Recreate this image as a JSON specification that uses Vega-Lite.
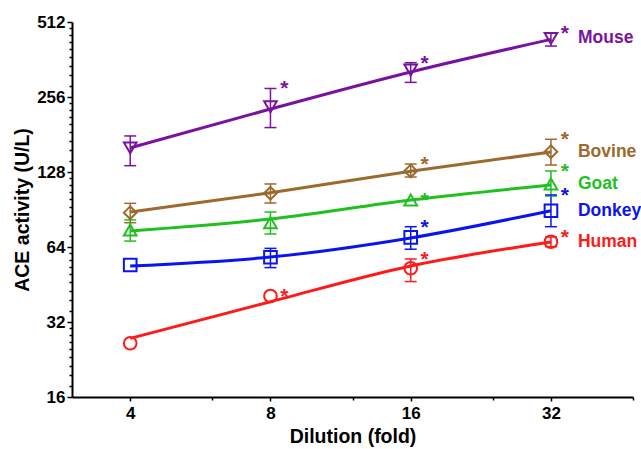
{
  "$schema": "https://vega.github.io/schema/vega-lite/v6.json",
  "width": 561,
  "height": 375,
  "autosize": "none",
  "padding": {"left": 72, "top": 22, "right": 8, "bottom": 52},
  "background": "white",
  "config": {
    "view": {"stroke": null},
    "font": "Liberation Sans",
    "axis": {
      "domainColor": "black",
      "domainWidth": 2,
      "tickColor": "black",
      "tickWidth": 1.5,
      "labelColor": "black",
      "labelFont": "Liberation Sans",
      "labelFontWeight": "bold",
      "labelFontSize": 17,
      "titleFont": "Liberation Sans",
      "titleFontWeight": "bold",
      "titleFontSize": 19.5,
      "titleColor": "black",
      "grid": false,
      "labelOverlap": false
    }
  },
  "data": {
    "values": [
      {"species": "Mouse", "dilution": 4, "mean": 160, "lo": 135.7, "hi": 178.6, "fit": 160, "star": false},
      {"species": "Mouse", "dilution": 8, "mean": 234, "lo": 193, "hi": 277, "fit": 229, "star": true},
      {"species": "Mouse", "dilution": 16, "mean": 328.5, "lo": 293, "hi": 351.5, "fit": 322.6, "star": true},
      {"species": "Mouse", "dilution": 32, "mean": 440, "lo": 410, "hi": 462, "fit": 436, "star": true},
      {"species": "Bovine", "dilution": 4, "mean": 87.9, "lo": 80.1, "hi": 95.8, "fit": 88.5, "star": false},
      {"species": "Bovine", "dilution": 8, "mean": 105.1, "lo": 96.1, "hi": 114.6, "fit": 105.7, "star": false},
      {"species": "Bovine", "dilution": 16, "mean": 129.2, "lo": 122.2, "hi": 137.8, "fit": 129, "star": true},
      {"species": "Bovine", "dilution": 32, "mean": 154.4, "lo": 136.5, "hi": 173.2, "fit": 154, "star": true},
      {"species": "Goat", "dilution": 4, "mean": 74.9, "lo": 67.6, "hi": 82.2, "fit": 74.2, "star": false},
      {"species": "Goat", "dilution": 8, "mean": 80.1, "lo": 72.2, "hi": 88.4, "fit": 82.9, "star": false},
      {"species": "Goat", "dilution": 16, "mean": 98.8, "lo": null, "hi": null, "fit": 98.8, "star": true},
      {"species": "Goat", "dilution": 32, "mean": 114.6, "lo": 102.5, "hi": 129.2, "fit": 113.5, "star": true},
      {"species": "Donkey", "dilution": 4, "mean": 54.2, "lo": null, "hi": null, "fit": 53.7, "star": false},
      {"species": "Donkey", "dilution": 8, "mean": 58.2, "lo": 52.9, "hi": 63.2, "fit": 58.3, "star": false},
      {"species": "Donkey", "dilution": 16, "mean": 70.0, "lo": 62.7, "hi": 77.2, "fit": 69.6, "star": true},
      {"species": "Donkey", "dilution": 32, "mean": 89.5, "lo": 77.2, "hi": 103.5, "fit": 89.5, "star": true},
      {"species": "Human", "dilution": 4, "mean": 26.3, "lo": null, "hi": null, "fit": 27.5, "star": false},
      {"species": "Human", "dilution": 8, "mean": 40.7, "lo": null, "hi": null, "fit": 38.6, "star": true},
      {"species": "Human", "dilution": 16, "mean": 52.6, "lo": 46.5, "hi": 57.3, "fit": 53.7, "star": true},
      {"species": "Human", "dilution": 32, "mean": 67.2, "lo": 64.2, "hi": 70.2, "fit": 67, "star": true}
    ]
  },
  "encoding": {
    "x": {
      "field": "dilution",
      "type": "quantitative",
      "scale": {"type": "log", "base": 2, "domain": [3, 48], "nice": false},
      "axis": {
        "title": "Dilution (fold)",
        "values": [4, 6, 8, 12, 16, 24, 32, 48],
        "labelExpr": "indexof([4,8,16,32], datum.value) >= 0 ? datum.label : ''",
        "tickSize": {"condition": {"test": "indexof([4,8,16,32], datum.value) >= 0", "value": 4}, "value": 3},
        "labelPadding": 4,
        "titlePadding": 6
      }
    },
    "color": {
      "field": "species",
      "type": "nominal",
      "legend": null,
      "scale": {
        "domain": ["Mouse", "Bovine", "Goat", "Donkey", "Human"],
        "range": ["#7a12a0", "#9c6a2c", "#1fc01f", "#0a14f0", "#ff1a1a"]
      }
    }
  },
  "layer": [
    {
      "mark": {"type": "line", "interpolate": "monotone", "strokeWidth": 3},
      "encoding": {
        "y": {
          "field": "fit",
          "type": "quantitative",
          "scale": {"type": "log", "base": 2, "domain": [16, 512], "nice": false},
          "axis": {
            "title": "ACE activity (U/L)",
            "values": [16, 17.78, 19.56, 21.33, 23.11, 24.89, 26.67, 28.44, 30.22, 32, 35.56, 39.11, 42.67, 46.22, 49.78, 53.33, 56.89, 60.44, 64, 71.11, 78.22, 85.33, 92.44, 99.56, 106.67, 113.78, 120.89, 128, 142.22, 156.44, 170.67, 184.89, 199.11, 213.33, 227.56, 241.78, 256, 284.44, 312.89, 341.33, 369.78, 398.22, 426.67, 455.11, 483.56, 512],
            "labelExpr": "indexof([16,32,64,128,256,512], datum.value) >= 0 ? datum.label : ''",
            "tickSize": {"condition": {"test": "indexof([16,32,64,128,256,512], datum.value) >= 0", "value": 5}, "value": 3},
            "labelPadding": 2,
            "titlePadding": 4
          }
        },
        "detail": {"field": "species"}
      }
    },
    {
      "mark": {"type": "rule", "strokeWidth": 1.5},
      "encoding": {
        "y": {"field": "lo", "type": "quantitative"},
        "y2": {"field": "hi"}
      }
    },
    {
      "mark": {"type": "point", "shape": "stroke", "size": 144, "strokeWidth": 1.5, "opacity": 1},
      "encoding": {"y": {"field": "lo", "type": "quantitative"}}
    },
    {
      "mark": {"type": "point", "shape": "stroke", "size": 144, "strokeWidth": 1.5, "opacity": 1},
      "encoding": {"y": {"field": "hi", "type": "quantitative"}}
    },
    {
      "mark": {"type": "point", "filled": false, "size": 160, "strokeWidth": 2, "opacity": 1},
      "encoding": {
        "y": {"field": "mean", "type": "quantitative"},
        "shape": {
          "field": "species",
          "type": "nominal",
          "legend": null,
          "scale": {
            "domain": ["Mouse", "Bovine", "Goat", "Donkey", "Human"],
            "range": ["triangle-down", "diamond", "triangle-up", "square", "circle"]
          }
        }
      }
    },
    {
      "transform": [
        {"filter": "datum.star"},
        {"calculate": "isValid(datum.hi) ? datum.hi : datum.mean", "as": "anchor"}
      ],
      "mark": {"type": "text", "text": "*", "fontSize": 21, "fontWeight": "bold", "dx": 14, "dy": 7, "align": "center", "baseline": "alphabetic"},
      "encoding": {"y": {"field": "anchor", "type": "quantitative"}}
    },
    {
      "transform": [{"filter": "datum.dilution == 32"}],
      "mark": {"type": "text", "fontSize": 17.5, "fontWeight": "bold", "dx": 27, "align": "left", "baseline": "middle"},
      "encoding": {
        "y": {"field": "mean", "type": "quantitative"},
        "text": {"field": "species"}
      }
    }
  ]
}
